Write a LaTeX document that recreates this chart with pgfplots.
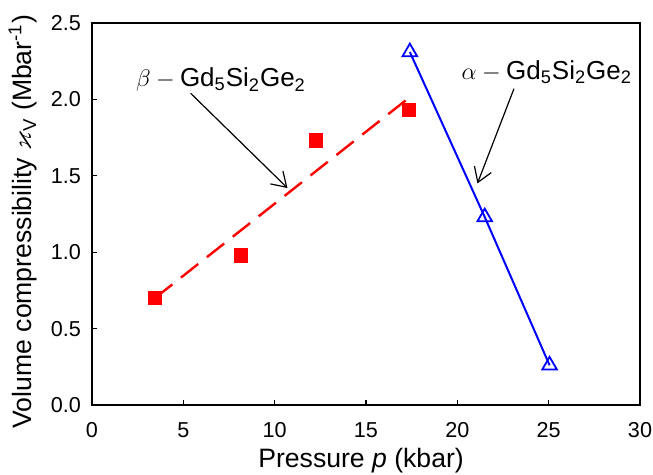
\documentclass[border=0pt]{standalone}
\usepackage{amssymb}
\usepackage{pgfplots}
\pgfplotsset{compat=1.18}
\usepackage{fontspec}
\setmainfont{Liberation Sans}
\usetikzlibrary{arrows.meta}
\begin{document}
\begin{tikzpicture}
\path[use as bounding box] (-46pt,-35pt) rectangle (280.5pt,202.5pt);
\begin{axis}[scale only axis,width=274pt,height=191pt,
  xmin=0,xmax=30,ymin=0,ymax=2.5,
  xtick={0,5,...,30},ytick={0,0.5,...,2.5},
  tick pos=left,tick align=inside,major tick length=2.5pt,
  axis line style={line width=0.8pt},
  every tick/.style={black,line width=0.6pt},
  /pgf/number format/assume math mode=true,
  yticklabel style={xshift=-2pt,/pgf/number format/.cd,fixed,fixed zerofill,precision=1},
  tick label style={font=\fontsize{10.8}{12}\selectfont},
  xticklabel style={anchor=base,yshift=-16.5pt},
  label style={font=\fontsize{13.3}{15}\selectfont},
  xlabel={Pressure \textit{p} (kbar)},
  ylabel={Volume compressibility $\varkappa$\textsubscript{V} (Mbar\textsuperscript{-1})},
  xlabel style={at={(axis description cs:0.491,0)},anchor=base,yshift=-31.5pt},
  ylabel style={at={(axis description cs:-0.1259,0.48)},anchor=center},
  clip=false]
% beta phase, fit line
\addplot[red,line width=1.2pt,dash pattern=on 11pt off 5.5pt] coordinates {(3.45,0.70)(17.35,2.01)};
% beta phase data
\addplot[only marks,mark=square*,mark size=3.4pt,color=red] coordinates
  {(3.45,0.70)(8.15,0.98)(12.25,1.73)(17.35,1.93)};
% alpha phase
\addplot[blue,line width=1pt,mark=triangle,mark size=4.2pt,
  mark options={solid,fill=white,line width=0.9pt}] coordinates
  {(17.4,2.31)(21.5,1.23)(25.05,0.26)};
\draw[-{Straight Barb[length=7pt,width=9pt]},line width=0.6pt] (axis cs:5.4,2.04) -- (axis cs:10.7,1.42);
\draw[-{Straight Barb[length=7pt,width=9pt]},line width=0.6pt] (axis cs:23.1,2.07) -- (axis cs:21.1,1.45);
\node[font=\fontsize{13}{15}\selectfont] at (axis cs:7.06,2.13) {$\beta - {}$Gd\textsubscript{5}Si\textsubscript{2}Ge\textsubscript{2}};
\node[font=\fontsize{13}{15}\selectfont] at (axis cs:24.9,2.18) {$\alpha - {}$Gd\textsubscript{5}Si\textsubscript{2}Ge\textsubscript{2}};
\end{axis}
\end{tikzpicture}
\end{document}
